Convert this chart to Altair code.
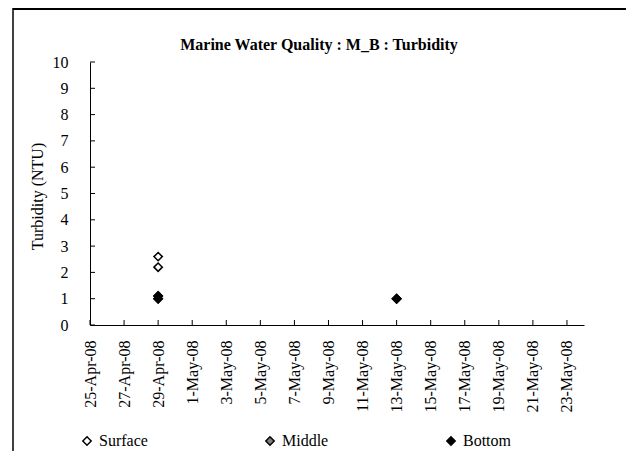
import altair as alt
import pandas as pd

# ---- data ----
series_names = ["Surface", "Middle", "Bottom"]
surface_dates = ["2008/04/29", "2008/04/29", "2008/05/13"]
surface_vals = [2.6, 2.2, 1.0]
middle_dates = ["2008/04/29", "2008/04/29", "2008/05/13"]
middle_vals = [1.1, 1.0, 1.0]
bottom_dates = ["2008/04/29", "2008/04/29", "2008/05/13"]
bottom_vals = [1.1, 1.0, 1.0]

xtick_dates = ["2008/04/25", "2008/04/27", "2008/04/29", "2008/05/01", "2008/05/03",
               "2008/05/05", "2008/05/07", "2008/05/09", "2008/05/11", "2008/05/13",
               "2008/05/15", "2008/05/17", "2008/05/19", "2008/05/21", "2008/05/23"]
ytick_vals = [0, 1, 2, 3, 4, 5, 6, 7, 8, 9, 10]
title_text = "Marine Water Quality : M_B : Turbidity"

rows = []
for name, ds, vs in [("Surface", surface_dates, surface_vals),
                     ("Middle", middle_dates, middle_vals),
                     ("Bottom", bottom_dates, bottom_vals)]:
    for d, v in zip(ds, vs):
        rows.append({"date": d, "value": v, "series": name})
df = pd.DataFrame(rows)

W, H = 494, 263
FONT = "Liberation Serif"

xdt = [alt.DateTime(year=int(d[:4]), month=int(d[5:7]), date=int(d[8:])) for d in xtick_dates]
xscale = alt.Scale(domain=[alt.DateTime(year=2008, month=4, date=25),
                           alt.DateTime(year=2008, month=5, date=24)])
yscale = alt.Scale(domain=[0, 10], nice=False)

xaxis = alt.Axis(values=xdt, format="%-d-%b-%y", labelAngle=270, ticks=False,
                 labelPadding=15, title=None, labelFont=FONT, labelFontSize=16,
                 labelColor="black", domainColor="black", grid=False,
                 labelOverlap=False, labelBound=False, labelFlush=False)
yaxis = alt.Axis(values=ytick_vals, ticks=False, labelPadding=22,
                 title="Turbidity (NTU)", titleFont=FONT, titleFontSize=16,
                 titleFontWeight="normal", titleColor="black",
                 titleAngle=270, titleX=-53, titleY=134, titleAlign="center",
                 titleBaseline="middle", labelFont=FONT, labelFontSize=16,
                 labelColor="black", domainColor="black", grid=False,
                 labelOverlap=False, labelBound=False, labelFlush=False)

points = alt.Chart(df).mark_point(
    shape="diamond", filled=True, size=70, stroke="black", strokeWidth=1.5, opacity=1
).encode(
    x=alt.X("date:T", scale=xscale, axis=xaxis),
    y=alt.Y("value:Q", scale=yscale, axis=yaxis),
    fill=alt.Fill("series:N",
                  scale=alt.Scale(domain=series_names, range=["white", "#808080", "black"]),
                  legend=alt.Legend(orient="none", legendX=-11, legendY=371,
                                    direction="horizontal", title=None,
                                    symbolType="diamond", symbolSize=70,
                                    symbolStrokeColor="black", symbolStrokeWidth=1.5,
                                    symbolOpacity=1,
                                    labelFont=FONT, labelFontSize=16, labelColor="black",
                                    columnPadding=114, labelOffset=4, gridAlign="each")),
    order=alt.Order("idx:Q"),
).transform_window(idx="row_number()")

xt = alt.Chart(pd.DataFrame({"date": xtick_dates})).mark_rule(
    color="black", strokeWidth=1
).encode(x=alt.X("date:T", scale=xscale, axis=xaxis), y=alt.value(H - 5), y2=alt.value(H))

yt = alt.Chart(pd.DataFrame({"value": ytick_vals})).mark_rule(
    color="black", strokeWidth=1
).encode(y=alt.Y("value:Q", scale=yscale, axis=yaxis), x=alt.value(0), x2=alt.value(5))

border_v = alt.Chart(alt.Data(values=[{}])).mark_rule(
    color="black", strokeWidth=1.5
).encode(x=alt.value(-77), y=alt.value(-54), y2=alt.value(389))

border_h = alt.Chart(alt.Data(values=[{}])).mark_rule(
    color="black", strokeWidth=2
).encode(x=alt.value(-77), x2=alt.value(536), y=alt.value(-53))

title = alt.Chart(alt.Data(values=[{}])).mark_text(
    font=FONT, fontSize=16, fontWeight="bold", color="black",
    align="center", baseline="middle"
).encode(x=alt.value(W / 2 - 18), y=alt.value(-17), text=alt.value(title_text))

chart = alt.layer(points, xt, yt, border_v, border_h, title).properties(
    width=W, height=H,
    autosize=alt.AutoSizeParams(type="none"),
    padding={"left": 82, "top": 54, "right": 42, "bottom": 126},
).configure(font=FONT).configure_view(stroke=None).configure_axis(
    labelFont=FONT, labelFontSize=16, labelColor="black",
    titleFont=FONT, titleFontSize=16, titleFontWeight="normal", titleColor="black",
    domainColor="black", domainWidth=1, grid=False,
    labelOverlap=False, labelBound=False, labelFlush=False,
).configure_legend(labelFont=FONT, labelFontSize=16, labelColor="black")

chart.save("out.html", embed_options={"renderer": "svg", "actions": False})
